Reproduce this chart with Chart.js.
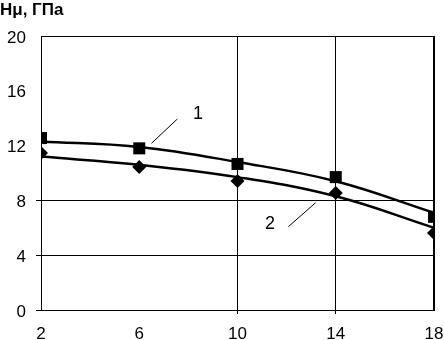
<!DOCTYPE html>
<html lang="ru">
<head>
<meta charset="UTF-8">
<title>Hμ vs x</title>
<script src="https://cdn.jsdelivr.net/npm/chart.js"></script>
<style>
  body { margin: 0; background: #fff; }
  #wrap { width: 444px; height: 340px; }
</style>
</head>
<body>
<div id="wrap"><canvas id="hChart" width="444" height="340"></canvas></div>
<script>
// values
const xValues = [2, 6, 10, 14, 18];
const series1 = [12.55, 11.8, 10.66, 9.7, 6.8];   // squares
const series2 = [11.46, 10.44, 9.42, 8.54, 5.62]; // diamonds
const trend1 = [12.3, 11.9, 10.8, 9.4, 7.1];
const trend2 = [11.2, 10.6, 9.7, 8.3, 6.0];
const yTitle = 'Hμ, ГПа';
// curve labels, in data units: [text, x, y, leader x1, y1, x2, y2]
const curveLabels = [
  ['1', 8.39, 14.3, 6.5, 12.17, 7.55, 13.94],
  ['2', 11.32, 6.28, 12.07, 6.08, 13.18, 7.83]
];

const FONT = '"Liberation Sans", Arial, sans-serif';
const pts = (ys) => xValues.map((x, i) => ({ x: x, y: ys[i] }));

const extras = {
  id: 'extras',
  afterDatasetsDraw(chart) {
    const ctx = chart.ctx;
    const xs = chart.scales.x, ys = chart.scales.y;
    ctx.save();
    ctx.fillStyle = '#000';
    ctx.strokeStyle = '#000';
    ctx.lineWidth = 1;
    ctx.font = '18px ' + FONT;
    ctx.textAlign = 'center';
    ctx.textBaseline = 'middle';
    curveLabels.forEach(l => {
      ctx.fillText(l[0], xs.getPixelForValue(l[1]), ys.getPixelForValue(l[2]));
      ctx.beginPath();
      ctx.moveTo(xs.getPixelForValue(l[3]), ys.getPixelForValue(l[4]));
      ctx.lineTo(xs.getPixelForValue(l[5]), ys.getPixelForValue(l[6]));
      ctx.stroke();
    });
    ctx.font = 'bold 17px ' + FONT;
    ctx.textAlign = 'left';
    ctx.textBaseline = 'alphabetic';
    ctx.fillText(yTitle, 0, 15);
    ctx.restore();
  }
};

new Chart(document.getElementById('hChart'), {
  type: 'scatter',
  data: {
    datasets: [
      { data: pts(trend1), showLine: true, borderColor: '#000', borderWidth: 2.5, pointRadius: 0, tension: 0.4, fill: false },
      { data: pts(trend2), showLine: true, borderColor: '#000', borderWidth: 2.5, pointRadius: 0, tension: 0.4, fill: false },
      { data: pts(series1), pointStyle: 'rect', pointRadius: 8.5, backgroundColor: '#000', borderColor: '#000', borderWidth: 0 },
      { data: pts(series2), pointStyle: 'rectRot', pointRadius: 7, backgroundColor: '#000', borderColor: '#000', borderWidth: 0 }
    ]
  },
  options: {
    responsive: false,
    animation: false,
    layout: { padding: { top: 36, right: 0, left: 0, bottom: 0 } },
    plugins: { legend: { display: false }, tooltip: { enabled: false } },
    scales: {
      x: {
        type: 'linear',
        min: 2, max: 18,
        afterFit: s => { s.height = 30; s.paddingRight = 10; s.paddingLeft = 0; },
        ticks: { stepSize: 4, color: '#000', padding: 10, font: { family: FONT, size: 17 } },
        grid: {
          color: c => [10, 14, 18].includes(c.tick.value) ? '#000' : 'rgba(0,0,0,0)',
          lineWidth: c => c.tick.value === 18 ? 2 : 1,
          tickColor: c => [10, 14].includes(c.tick.value) ? '#000' : 'rgba(0,0,0,0)',
          tickLength: 4
        },
        border: { color: '#000', width: 1 }
      },
      y: {
        min: 0, max: 20,
        afterFit: s => { s.width = 41; },
        ticks: { stepSize: 4, color: '#000', padding: 10, labelOffset: 2, font: { family: FONT, size: 17 } },
        grid: {
          color: c => [4, 8, 20].includes(c.tick.value) ? '#000' : 'rgba(0,0,0,0)',
          tickColor: c => [0, 4, 8].includes(c.tick.value) ? '#000' : 'rgba(0,0,0,0)',
          tickLength: 5
        },
        border: { color: '#000', width: 1 }
      }
    }
  },
  plugins: [extras]
});
</script>
</body>
</html>
